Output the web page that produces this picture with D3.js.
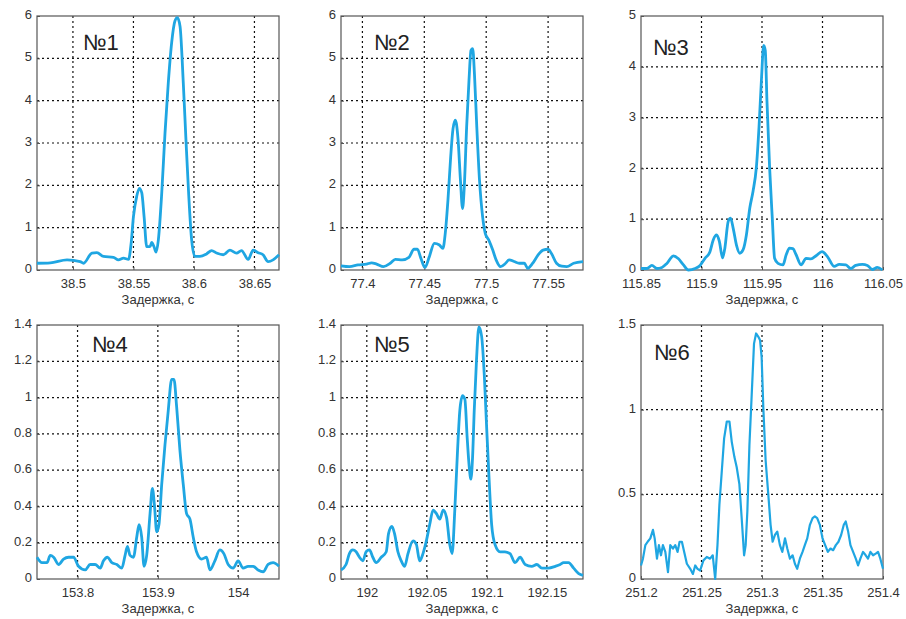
<!DOCTYPE html>
<html>
<head>
<meta charset="utf-8">
<script src="https://cdnjs.cloudflare.com/ajax/libs/d3/7.8.5/d3.min.js"></script>
<style>
  body { margin: 0; background: #fff; }
  svg { display: block; }
  text { font-family: "Liberation Sans", Arial, sans-serif; }
</style>
</head>
<body>
<svg id="chart" width="906" height="619"></svg>
<script>
// panel titles and axis label
const titles = ["№1", "№2", "№3", "№4", "№5", "№6"];
const xLabel = "Задержка, с";

// №1
const delay1 = [38.4703,38.4813,38.4951,38.506,38.5088,38.5157,38.5198,38.5253,38.5335,38.5376,38.5418,38.5459,38.5481,38.55,38.5527,38.5549,38.5569,38.5588,38.561,38.5637,38.5651,38.567,38.5687,38.5706,38.5734,38.5761,38.5788,38.5816,38.5843,38.5863,38.5885,38.5912,38.5934,38.5956,38.5981,38.6008,38.6049,38.6104,38.6146,38.6187,38.6242,38.6297,38.6352,38.6393,38.6448,38.6489,38.653,38.6571,38.6613,38.6654,38.6703];
const amp1 = [0.16,0.17,0.24,0.2,0.16,0.4,0.41,0.32,0.3,0.24,0.28,0.25,0.63,1.26,1.74,1.93,1.82,1.26,0.55,0.55,0.65,0.55,0.42,0.71,1.82,3.24,4.42,5.37,5.88,5.96,5.76,4.42,3.08,1.82,0.71,0.32,0.32,0.38,0.46,0.4,0.36,0.47,0.4,0.46,0.25,0.47,0.41,0.36,0.2,0.24,0.36];

// №2
const delay2 = [77.3827,77.3896,77.3964,77.4033,77.4074,77.4115,77.417,77.4225,77.4266,77.4321,77.4376,77.4417,77.4444,77.4472,77.4505,77.454,77.4581,77.4622,77.465,77.4669,77.4691,77.4713,77.4732,77.4751,77.4773,77.4792,77.4809,77.4823,77.4842,77.4861,77.4877,77.4891,77.4905,77.4924,77.4946,77.4971,77.4993,77.502,77.5053,77.508,77.5116,77.5157,77.5185,77.5226,77.5267,77.5308,77.5335,77.5376,77.5418,77.5459,77.55,77.5527,77.5568,77.561,77.5651,77.5706,77.5782];
const amp2 = [0.1,0.08,0.12,0.14,0.17,0.14,0.08,0.16,0.25,0.24,0.3,0.49,0.49,0.28,0.06,0.31,0.63,0.59,0.51,0.86,1.65,2.67,3.34,3.54,3.07,2.12,1.45,1.97,3.38,4.48,5.19,5.23,4.64,3.38,2.12,1.26,0.86,0.71,0.47,0.24,0.08,0.16,0.24,0.2,0.16,0.16,0.04,0.16,0.35,0.47,0.49,0.39,0.16,0.09,0.08,0.16,0.2];

// №3
const delay3 = [115.85,115.8549,115.859,115.8632,115.8673,115.8714,115.8768,115.881,115.8851,115.8892,115.8947,115.8988,115.9029,115.907,115.9097,115.9125,115.9147,115.9174,115.9193,115.9221,115.924,115.9262,115.9289,115.9316,115.9344,115.9371,115.9399,115.9426,115.9453,115.9475,115.9495,115.9514,115.9527,115.9541,115.9563,115.9585,115.9604,115.9632,115.9673,115.97,115.9727,115.9755,115.9782,115.9823,115.9864,115.9905,115.9947,115.9996,116.0042,116.0097,116.0138,116.0193,116.0234,116.0275,116.033,116.0371,116.0412,116.0453,116.0495];
const amp3 = [0.03,0.03,0.09,0.03,0.05,0.13,0.28,0.22,0.1,0,0.03,0.09,0.23,0.36,0.59,0.69,0.57,0.24,0.43,0.96,1.02,0.82,0.49,0.33,0.4,0.69,1.22,1.55,2.01,2.8,3.73,4.42,4.32,3.33,2.01,1.02,0.23,0.13,0.1,0.3,0.43,0.42,0.3,0.1,0.23,0.22,0.28,0.36,0.26,0.07,0.11,0.1,0.03,0.09,0.11,0.09,0.01,0.05,0];

// №4
const delay4 = [153.7495,153.7557,153.7619,153.766,153.7702,153.7764,153.7826,153.7888,153.795,153.8012,153.8095,153.8157,153.8219,153.8282,153.8323,153.8373,153.8427,153.8489,153.8551,153.8592,153.8621,153.8654,153.8696,153.8737,153.8766,153.8799,153.8828,153.8861,153.8903,153.8932,153.8957,153.8986,153.9014,153.9048,153.9089,153.913,153.9172,153.9201,153.9234,153.9275,153.9317,153.9358,153.94,153.9441,153.9482,153.9545,153.9607,153.9648,153.971,153.9772,153.9822,153.9876,153.9938,154.0,154.0062,154.0124,154.0186,154.0248,154.0311,154.0373,154.0435,154.0509];
const amp4 = [0.12,0.09,0.09,0.13,0.12,0.08,0.11,0.12,0.12,0.07,0.05,0.08,0.08,0.06,0.1,0.12,0.09,0.08,0.06,0.13,0.18,0.13,0.12,0.23,0.3,0.23,0.07,0.13,0.36,0.5,0.41,0.26,0.3,0.52,0.74,0.93,1.1,1.1,0.95,0.71,0.52,0.36,0.33,0.23,0.15,0.11,0.12,0.05,0.1,0.16,0.14,0.08,0.06,0.1,0.06,0.07,0.07,0.05,0.04,0.08,0.09,0.07];

// №5
const delay5 = [191.9785,191.9827,191.9855,191.9883,191.9911,191.9939,191.9967,191.9994,192.0022,192.005,192.0078,192.012,192.0162,192.0181,192.0209,192.0231,192.0259,192.0287,192.0315,192.0343,192.0385,192.0413,192.044,192.0468,192.0496,192.0524,192.0552,192.058,192.0608,192.0636,192.0664,192.0691,192.0711,192.0733,192.0756,192.0775,192.0797,192.0817,192.0836,192.0853,192.0867,192.0881,192.0895,192.0914,192.0934,192.0956,192.0979,192.0998,192.1018,192.104,192.1068,192.111,192.1151,192.1193,192.1235,192.1277,192.1319,192.1374,192.1416,192.1458,192.1514,192.157,192.1611,192.1639,192.1681,192.1723,192.1765,192.1801];
const amp5 = [0.05,0.08,0.14,0.16,0.15,0.12,0.1,0.15,0.16,0.12,0.09,0.12,0.15,0.25,0.29,0.25,0.15,0.1,0.07,0.14,0.21,0.19,0.1,0.14,0.21,0.3,0.38,0.36,0.33,0.38,0.34,0.19,0.14,0.38,0.71,0.93,1.01,0.99,0.78,0.62,0.55,0.67,0.93,1.21,1.39,1.34,1.12,0.84,0.56,0.3,0.19,0.15,0.15,0.14,0.09,0.12,0.08,0.07,0.08,0.06,0.06,0.07,0.08,0.09,0.09,0.06,0.03,0.02];

// №6
const delay6 = [251.2,251.2016,251.2036,251.2055,251.2077,251.2099,251.2113,251.2132,251.2148,251.2165,251.2181,251.2201,251.2223,251.2242,251.2264,251.2283,251.2302,251.2319,251.2338,251.2357,251.2379,251.2407,251.2429,251.2448,251.2467,251.2489,251.2516,251.2544,251.2571,251.2593,251.2613,251.2632,251.2648,251.2668,251.2687,251.2709,251.2731,251.275,251.2772,251.2791,251.2813,251.2832,251.2852,251.2865,251.2879,251.2896,251.2915,251.2934,251.2951,251.297,251.2984,251.2997,251.3011,251.303,251.3052,251.3071,251.3088,251.3107,251.3126,251.3148,251.3168,251.319,251.3209,251.3231,251.3253,251.3272,251.3291,251.3313,251.3335,251.3354,251.3374,251.3396,251.3418,251.3437,251.3456,251.3478,251.35,251.3522,251.3544,251.3566,251.3588,251.361,251.3632,251.3654,251.3676,251.3692,251.3712,251.3731,251.3753,251.3775,251.3794,251.3813,251.3835,251.3857,251.3876,251.3896,251.3918,251.394,251.3959,251.3978,251.4];
const amp6 = [0.08,0.12,0.2,0.22,0.24,0.29,0.24,0.12,0.2,0.14,0.2,0.16,0.04,0.2,0.18,0.2,0.16,0.22,0.22,0.16,0.09,0.06,0.03,0.08,0.06,0.05,0.11,0.13,0.12,0.14,0,0.2,0.44,0.64,0.83,0.93,0.93,0.81,0.72,0.66,0.56,0.36,0.14,0.2,0.4,0.79,1.09,1.39,1.45,1.43,1.41,1.31,1.01,0.7,0.5,0.32,0.22,0.26,0.28,0.2,0.16,0.24,0.18,0.12,0.14,0.09,0.06,0.12,0.16,0.2,0.24,0.32,0.36,0.37,0.36,0.32,0.24,0.2,0.16,0.18,0.17,0.2,0.22,0.26,0.32,0.34,0.28,0.2,0.16,0.12,0.08,0.12,0.16,0.14,0.12,0.16,0.14,0.15,0.16,0.12,0.06];

// axis ranges and ticks
const xRanges = [[38.4703, 38.6703], [77.3827, 77.5782], [115.85, 116.05], [153.7495, 154.0509], [191.9785, 192.1801], [251.2, 251.4]];
const yRanges = [[0, 6], [0, 6], [0, 5], [0, 1.4], [0, 1.4], [0, 1.5]];
const xTicks = [
  [38.5, 38.55, 38.6, 38.65],
  [77.4, 77.45, 77.5, 77.55],
  [115.85, 115.9, 115.95, 116, 116.05],
  [153.8, 153.9, 154],
  [192, 192.05, 192.1, 192.15],
  [251.2, 251.25, 251.3, 251.35, 251.4]
];
const yTicks = [
  [0, 1, 2, 3, 4, 5, 6],
  [0, 1, 2, 3, 4, 5, 6],
  [0, 1, 2, 3, 4, 5],
  [0, 0.2, 0.4, 0.6, 0.8, 1, 1.2, 1.4],
  [0, 0.2, 0.4, 0.6, 0.8, 1, 1.2, 1.4],
  [0, 0.5, 1, 1.5]
];
const delays = [delay1, delay2, delay3, delay4, delay5, delay6];
const amps = [amp1, amp2, amp3, amp4, amp5, amp6];

// layout
const lefts = [37, 341, 641];
const tops = [16, 325];
const W = 242, H = 254;
const titleOffset = [[46, 34], [33, 34], [12, 39], [55, 27], [33, 27], [13, 35]];
const lineColor = "#1fa6e2";

const svg = d3.select("#chart");
const fmt = d => String(+d.toFixed(4));

titles.forEach((title, i) => {
  const x0 = lefts[i % 3], y0 = tops[Math.floor(i / 3)];
  const g = svg.append("g").attr("transform", `translate(${x0},${y0})`);

  const x = d3.scaleLinear().domain(xRanges[i]).range([0, W]);
  const y = d3.scaleLinear().domain(yRanges[i]).range([H, 0]);

  // dotted grid
  const xInner = xTicks[i].filter(t => x(t) > 1 && x(t) < W - 1);
  const yInner = yTicks[i].filter(t => y(t) > 1 && y(t) < H - 1);
  g.selectAll(".gx").data(xInner).join("line")
    .attr("x1", d => x(d)).attr("x2", d => x(d))
    .attr("y1", 0).attr("y2", H)
    .attr("stroke", "#111").attr("stroke-width", 1.2)
    .attr("stroke-dasharray", "2,3");
  g.selectAll(".gy").data(yInner).join("line")
    .attr("y1", d => y(d)).attr("y2", d => y(d))
    .attr("x1", 0).attr("x2", W)
    .attr("stroke", "#111").attr("stroke-width", 1.2)
    .attr("stroke-dasharray", "2,3");

  // frame
  g.append("rect")
    .attr("width", W).attr("height", H)
    .attr("fill", "none").attr("stroke", "#555").attr("stroke-width", 1.2);

  // axes
  const xAxis = g.append("g").attr("transform", `translate(0,${H})`)
    .call(d3.axisBottom(x).tickValues(xTicks[i]).tickFormat(fmt).tickSizeInner(-3).tickSizeOuter(0).tickPadding(9));
  const yAxis = g.append("g")
    .call(d3.axisLeft(y).tickValues(yTicks[i]).tickFormat(fmt).tickSizeInner(-3).tickSizeOuter(0).tickPadding(5));
  [xAxis, yAxis].forEach(a => {
    a.select(".domain").remove();
    a.selectAll("line").attr("stroke", "#555");
    a.selectAll("text").attr("fill", "#333").style("font-size", "13px");
  });
  yAxis.selectAll("text").attr("dy", "0.2em");

  // curve
  const pts = delays[i].map((d, k) => [d, amps[i][k]]);
  g.append("path")
    .datum(pts)
    .attr("fill", "none")
    .attr("stroke", lineColor)
    .attr("stroke-width", i === 5 ? 2.2 : 2.8)
    .attr("stroke-linejoin", "round")
    .attr("d", d3.line().x(d => x(d[0])).y(d => y(d[1]))
      .curve(i === 5 ? d3.curveLinear : d3.curveMonotoneX));

  // title
  g.append("text")
    .attr("x", titleOffset[i][0]).attr("y", titleOffset[i][1])
    .attr("fill", "#222").style("font-size", "22px")
    .text(title);

  // x label
  g.append("text")
    .attr("x", W / 2).attr("y", H + 34)
    .attr("text-anchor", "middle")
    .attr("fill", "#333").style("font-size", "13px")
    .text(xLabel);
});
</script>
</body>
</html>
